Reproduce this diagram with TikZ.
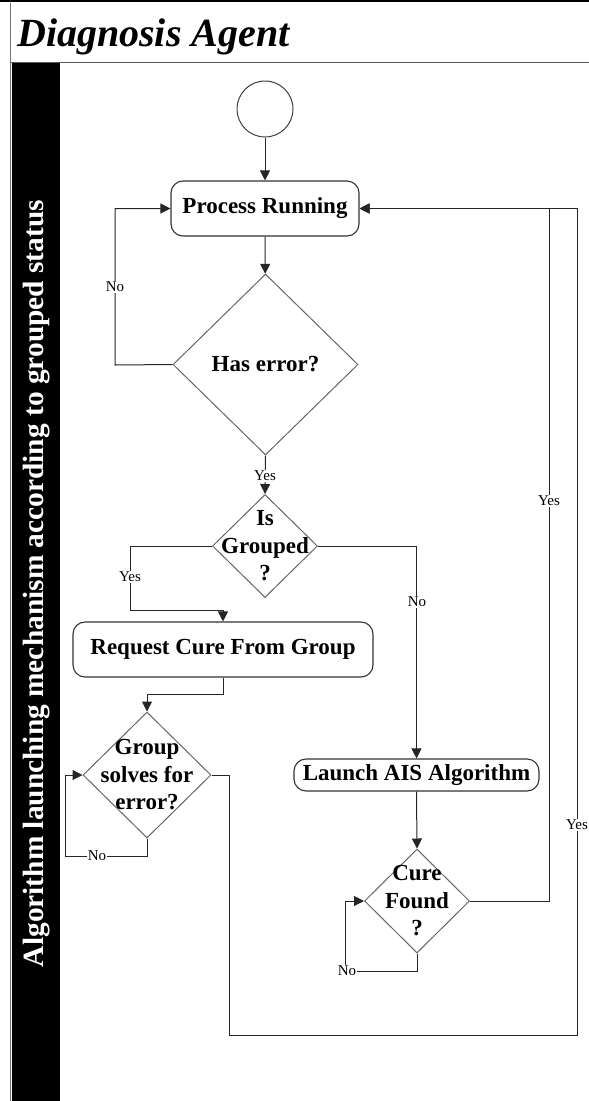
\documentclass[tikz,border=0pt]{standalone}
\usepackage{fontspec}
\setmainfont{Liberation Serif}
\usetikzlibrary{arrows.meta,shapes.geometric}
\tikzset{
  conn/.style={draw=black!85, line width=1pt},
  arr/.style={conn, -{Triangle[length=10pt,width=10pt]}},
  rbox/.style={draw=black!80, line width=1.1pt, rounded corners=12pt, inner sep=0pt,
    font=\fontsize{23}{27}\selectfont\bfseries},
  dia/.style={draw=black!60, line width=1pt, diamond, inner sep=0pt},
  dtext/.style={align=center, inner sep=0pt, font=\fontsize{23}{27.5}\selectfont\bfseries},
  lbl/.style={fill=white, inner sep=1pt, font=\fontsize{15}{17}\selectfont},
}
\begin{document}
\begin{tikzpicture}[x=1pt,y=-1pt]
\useasboundingbox (0,0) rectangle (589,1101);
% frame and title band
\fill[black] (0,0) rectangle (589,2.2);
\draw[black!55, line width=1pt] (10.5,3) -- (10.5,1101);
\draw[black!65, line width=1.6pt] (10.5,62.5) -- (589,62.5);
\node[anchor=base west, inner sep=0pt, font=\fontsize{40}{42}\selectfont\bfseries\itshape]
  (title) at (17,46) {Diagnosis Agent};
% swimlane bar
\fill[black] (12,63) rectangle (60,1101);
\node[rotate=90, text=white, inner sep=0pt, font=\bfseries] (lane) at (37,583.5)
  {\resizebox{767pt}{!}{Algorithm launching mechanism according to grouped status}};

% nodes
\node[draw=black!75, line width=1pt, circle, minimum size=56pt, inner sep=0pt] (start) at (265,109) {};
\node[rbox, minimum width=188pt, minimum height=55pt] (pr) at (265,208.5) {Process Running};
\node[dia, minimum width=185pt, minimum height=181pt] (he) at (265.5,364.5) {};
\node[dtext] (he-t) at (he) {Has error?};
\node[dia, minimum width=105pt, minimum height=103pt] (ig) at (265,546) {};
\node[dtext] (ig-t) at (ig) {Is\\Grouped\\?};
\node[rbox, minimum width=300pt, minimum height=55pt] (rc) at (223,649.5) {Request Cure From Group};
\node[dia, minimum width=128pt, minimum height=126pt] (gs) at (147,775) {};
\node[dtext] (gs-t) at (gs) {Group\\solves for\\error?};
\node[rbox, minimum width=245pt, minimum height=32pt] (la) at (416.5,775) {Launch AIS Algorithm};
\node[dia, minimum width=105pt, minimum height=104pt] (cf) at (417,901) {};
\node[dtext] (cf-t) at (cf) {Cure\\Found\\?};

% bend points
\coordinate (he-no) at (115,365);
\coordinate (ig-yes) at (130,610);
\coordinate (gs-no) at (65,856);
\coordinate (cf-no) at (345,971);
\coordinate (cf-up) at (549,208.5);
\coordinate (gs-low) at (577,1035);

% connectors
\draw[arr] (start) -- (pr);
\draw[arr] (pr) -- (he);
\draw[arr] (he.west) -- (he-no) |- (pr.west);
\draw[arr] (he.south) -- (ig.north);
\draw[arr] (ig.west) -| (ig-yes) -| (rc.north);
\draw[arr] (ig.east) -| (la.north);
\draw[arr] (rc.south) -- ++(0,17) -| (gs.north);
\draw[arr] (gs.south) |- (gs-no) |- (gs.west);
\draw[arr] (la.south) -- (cf.north);
\draw[arr] (cf.south) |- (cf-no) |- (cf.west);
\draw[arr] (cf.east) -| (cf-up) -- (pr.east);
\draw[arr] (gs.east) -- ++(18,0) |- (gs-low) |- (pr.east);

% branch labels
\node[lbl] (l1) at (115,287) {No};
\node[lbl] (l2) at (265,476) {Yes};
\node[lbl] (l3) at (130,577) {Yes};
\node[lbl] (l4) at (417,602) {No};
\node[lbl] (l5) at (97,856) {No};
\node[lbl] (l6) at (347,971) {No};
\node[lbl] (l7) at (549,501) {Yes};
\node[lbl] (l8) at (577,825) {Yes};
\end{tikzpicture}
\end{document}
